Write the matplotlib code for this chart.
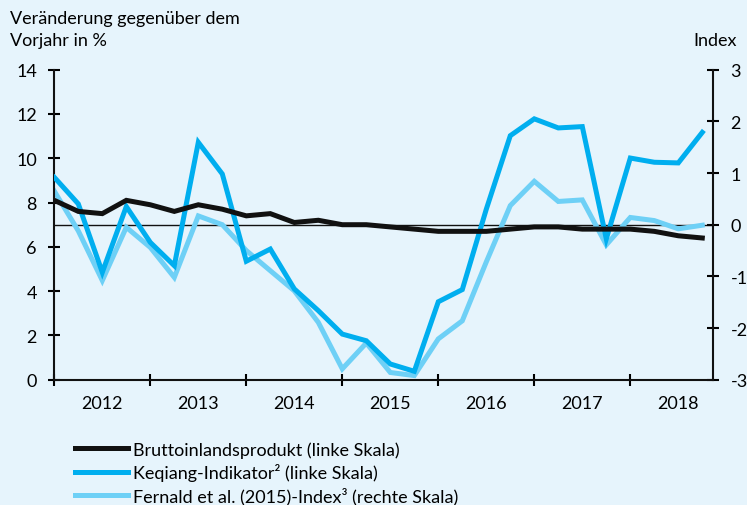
import numpy as np
import matplotlib
matplotlib.use("Agg")
import matplotlib.pyplot as plt
from matplotlib.ticker import FixedLocator, NullFormatter, FixedFormatter

plt.rcParams["font.family"] = ["Lato", "DejaVu Sans"]
plt.rcParams["axes.unicode_minus"] = False

# ---------- data (quarterly, 2012 Q1 - 2018 Q4) ----------
quarters = np.arange(2012, 2019, 0.25)
bip = [8.1, 7.6, 7.5, 8.1, 7.9, 7.6, 7.9, 7.7, 7.4, 7.5, 7.1, 7.2, 7.0, 7.0,
       6.9, 6.8, 6.7, 6.7, 6.7, 6.8, 6.9, 6.9, 6.8, 6.8, 6.8, 6.7, 6.5, 6.4]
keqiang = [9.14, 7.94, 4.85, 7.82, 6.2, 5.15, 10.72, 9.29, 5.35, 5.9, 4.1, 3.12,
           2.06, 1.76, 0.71, 0.38, 3.52, 4.07, 7.7, 11.02, 11.78, 11.37, 11.43, 6.36,
           10.01, 9.82, 9.79, 11.17]
fernald = [0.65, -0.12, -1.08, -0.05, -0.44, -1.02, 0.17, 0.0, -0.5, -0.89, -1.28, -1.89,
           -2.79, -2.29, -2.86, -2.92, -2.21, -1.86, -0.72, 0.37, 0.84, 0.45, 0.48, -0.39,
           0.14, 0.08, -0.08, -0.01]
years = [2012, 2013, 2014, 2015, 2016, 2017, 2018]
labels = ["Bruttoinlandsprodukt (linke Skala)",
          "Keqiang-Indikator\u00b2 (linke Skala)",
          "Fernald et al. (2015)-Index\u00b3 (rechte Skala)"]

BG = "#E6F4FC"
BLACK = "#111111"
BLUE = "#00AEEF"
LIGHT = "#6ED0F6"
FS = 13

fig = plt.figure(figsize=(7.47, 5.06), dpi=100)
fig.patch.set_facecolor(BG)
ax = fig.add_axes([0.0727, 0.2476, 0.8821, 0.6127])
ax.set_facecolor(BG)
ax2 = ax.twinx()

ax.set_xlim(2012, 2018.864)
ax.set_ylim(0, 14)
ax2.set_ylim(-3, 3)

# reference line (left 7 == right 0)
ax2.axhline(0, color=BLACK, lw=1.0, zorder=1)

ax.plot(quarters, bip, color=BLACK, lw=3.6, zorder=4, solid_joinstyle="miter")
ax.plot(quarters, keqiang, color=BLUE, lw=3.6, zorder=3, solid_joinstyle="miter")
ax2.plot(quarters, fernald, color=LIGHT, lw=3.6, zorder=2, solid_joinstyle="miter")
ax.set_zorder(ax2.get_zorder() + 1)
ax.patch.set_visible(False)
ax2.patch.set_visible(True)
ax2.patch.set_facecolor(BG)

for a in (ax, ax2):
    a.spines["top"].set_visible(False)
    for s in a.spines.values():
        s.set_linewidth(1.5)
        s.set_color(BLACK)
ax.spines["right"].set_visible(False)
ax2.spines["left"].set_visible(False)
ax2.spines["bottom"].set_visible(False)

ax.set_yticks(np.arange(0, 15, 2))
ax2.set_yticks(np.arange(-3, 4, 1))
ax.xaxis.set_major_locator(FixedLocator(years))
ax.xaxis.set_major_formatter(NullFormatter())
ax.xaxis.set_minor_locator(FixedLocator([y + 0.5 for y in years]))
ax.xaxis.set_minor_formatter(FixedFormatter([str(y) for y in years]))
ax.tick_params(axis="x", which="major", direction="inout", length=9, width=1.5)
ax.tick_params(axis="x", which="minor", length=0, labelsize=FS, pad=11)
ax.tick_params(axis="y", direction="inout", length=9, width=1.5, labelsize=FS, pad=8)
ax2.tick_params(axis="y", direction="inout", length=9, width=1.5, labelsize=FS, pad=8)

fig.text(0.013, 0.953, "Veränderung gegenüber dem", fontsize=FS, ha="left", va="baseline")
fig.text(0.013, 0.910, "Vorjahr in %", fontsize=FS, ha="left", va="baseline")
fig.text(0.987, 0.910, "Index", fontsize=FS, ha="right", va="baseline")

handles = ax.get_lines() + ax2.get_lines()[1:]
fig.legend(handles, labels, loc="upper left", bbox_to_anchor=(0.1004, 0.126),
           frameon=False, fontsize=FS, handlelength=2.93, handletextpad=0.28,
           labelspacing=0.30, borderpad=0, borderaxespad=0)

fig.savefig("out.png", dpi=100, facecolor=BG)
